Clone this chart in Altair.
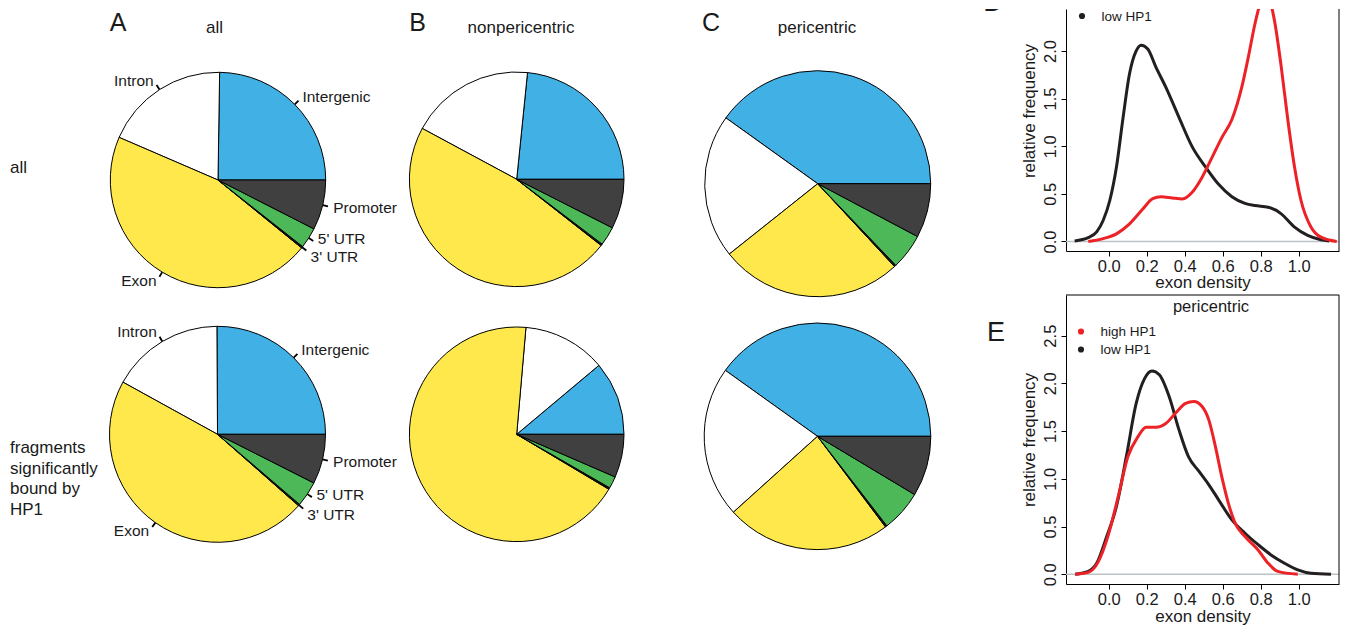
import math
import altair as alt
import pandas as pd

FONT = "Liberation Sans"
INK = "#1a1a1a"
RED = "#EC2227"
BLACK = "#231F20"

# ---------------- pie data ----------------
categories = ["Intergenic", "Intron", "Exon", "3' UTR", "5' UTR", "Promoter"]
category_colors = ["#41B0E4", "#FFFFFF", "#FFE84B", "#1A1A1A", "#4CB857", "#404040"]

all_all = [0.2475, 0.1875, 0.456, 0.0025, 0.031, 0.075]
all_nonperi = [0.234, 0.1875, 0.473, 0.0025, 0.0286, 0.0747]
all_peri = [0.401, 0.206, 0.262, 0.0025, 0.051, 0.0775]
hp1_all = [0.251, 0.169, 0.4655, 0.0025, 0.038, 0.0745]
hp1_nonperi = [0.111, 0.125, 0.6775, 0.0025, 0.018, 0.065]
hp1_peri = [0.401, 0.2156, 0.2355, 0.0025, 0.059, 0.086]

pie_series = {
    "all_all": all_all, "all_nonperi": all_nonperi, "all_peri": all_peri,
    "hp1_all": hp1_all, "hp1_nonperi": hp1_nonperi, "hp1_peri": hp1_peri,
}
rows = []
for key, vals in pie_series.items():
    for i, (c, v) in enumerate(zip(categories, vals)):
        rows.append({"pie": key, "category": c, "idx": i, "value": v})
pie_df = pd.DataFrame(rows)

# ---------------- density data ----------------
d_low_x = [-0.18, -0.108, -0.064, -0.03, 0.005, 0.04, 0.075, 0.109, 0.144, 0.17, 0.205, 0.248, 0.30, 0.37,
           0.44, 0.51, 0.578, 0.648, 0.717, 0.769, 0.839, 0.908, 0.978, 1.047, 1.117, 1.16]
d_low_y = [0.005, 0.04, 0.10, 0.22, 0.43, 0.78, 1.30, 1.76, 2.00, 2.06, 2.02, 1.83, 1.62, 1.30,
           0.99, 0.78, 0.60, 0.47, 0.40, 0.377, 0.36, 0.29, 0.15, 0.063, 0.018, 0.005]
d_high_x = [-0.108, -0.03, 0.04, 0.109, 0.179, 0.231, 0.274, 0.335, 0.387, 0.44, 0.49, 0.543, 0.595, 0.648,
            0.70, 0.734, 0.769, 0.80, 0.825, 0.85, 0.873, 0.908, 0.943, 0.978, 1.012, 1.065, 1.117, 1.2]
d_high_y = [0.0, 0.03, 0.08, 0.185, 0.34, 0.45, 0.47, 0.457, 0.447, 0.52, 0.67, 0.88, 1.09, 1.28,
            1.62, 1.93, 2.28, 2.52, 2.62, 2.52, 2.31, 1.83, 1.27, 0.78, 0.43, 0.15, 0.045, 0.0]
e_low_x = [-0.177, -0.108, -0.064, -0.012, 0.04, 0.092, 0.144, 0.188, 0.227, 0.266, 0.318, 0.37, 0.42,
           0.474, 0.526, 0.578, 0.648, 0.717, 0.786, 0.856, 0.925, 0.995, 1.064, 1.17]
e_low_y = [0.0, 0.03, 0.115, 0.39, 0.71, 1.23, 1.79, 2.05, 2.13, 2.09, 1.86, 1.51, 1.23,
           1.08, 0.94, 0.78, 0.57, 0.43, 0.31, 0.20, 0.115, 0.045, 0.01, 0.0]
e_high_x = [-0.177, -0.108, -0.056, -0.003, 0.049, 0.10, 0.153, 0.196, 0.248, 0.30, 0.352, 0.404, 0.448,
            0.49, 0.526, 0.561, 0.595, 0.63, 0.665, 0.717, 0.786, 0.839, 0.89, 0.995]
e_high_y = [0.0, 0.02, 0.13, 0.41, 0.81, 1.23, 1.44, 1.54, 1.54, 1.58, 1.69, 1.79, 1.81,
            1.76, 1.62, 1.34, 1.02, 0.74, 0.535, 0.395, 0.255, 0.115, 0.03, 0.0]

x_ticks = [0.0, 0.2, 0.4, 0.6, 0.8, 1.0]
y_ticks_d = [0.0, 0.5, 1.0, 1.5, 2.0]
y_ticks_e = [0.0, 0.5, 1.0, 1.5, 2.0, 2.5]


def dens_frame(xs, ys, group):
    return pd.DataFrame({"x": xs, "y": ys, "group": group})


dfD = pd.concat([dens_frame(d_low_x, d_low_y, "low HP1"), dens_frame(d_high_x, d_high_y, "high HP1")])
dfE = pd.concat([dens_frame(e_low_x, e_low_y, "low HP1"), dens_frame(e_high_x, e_high_y, "high HP1")])

one = pd.DataFrame({"k": [0]})

# ---------------- pie canvas ----------------
theta_scale = alt.Scale(domain=[0, 1], range=[2.5 * math.pi, 0.5 * math.pi])
color_scale = alt.Scale(domain=categories, range=category_colors)
label_nudge = {"5' UTR": -5, "3' UTR": 3}


def pie(key, cx, cy, r, labels=False):
    cx, cy = cx - 8, cy - 8
    src = alt.Chart(pie_df).transform_filter(alt.datum.pie == key)
    layers = [
        src.mark_arc(stroke="black", strokeWidth=1, radius=r).encode(
            theta=alt.Theta("value:Q", stack="normalize", scale=theta_scale),
            order=alt.Order("idx:Q"),
            color=alt.Color("category:N", scale=color_scale, legend=None),
            x=alt.value(cx), y=alt.value(cy),
        )
    ]
    if labels:
        lab = (src.transform_joinaggregate(total="sum(value)")
               .transform_window(cum="sum(value)", sort=[alt.SortField("idx")])
               .transform_calculate(mid="(datum.cum - datum.value/2)/datum.total")
               .transform_calculate(lo="datum.mid - 0.0013", hi="datum.mid + 0.0013",
                                    c="cos(2*PI*datum.mid)"))
        layers.append(lab.mark_arc(color="black").encode(
            theta=alt.Theta("lo:Q", scale=theta_scale, stack=False),
            theta2="hi:Q",
            radius=alt.value(r * 1.05), radius2=alt.value(r),
            x=alt.value(cx), y=alt.value(cy)))
        groups = [("datum.c >= 0 && datum.category != \"5' UTR\" && datum.category != \"3' UTR\"", "left", 0),
                  ("datum.c < 0", "right", 0)]
        for cat, d in label_nudge.items():
            groups.append((f"datum.category == \"{cat}\"", "left", d))
        for cond, al, d in groups:
            layers.append(lab.transform_filter(cond).mark_text(
                align=al, baseline="middle", font=FONT, fontSize=15.5, color=INK, dy=d).encode(
                theta=alt.Theta("mid:Q", scale=theta_scale, stack=False),
                radius=alt.value(r * 1.1),
                text="category:N",
                x=alt.value(cx), y=alt.value(cy)))
    return layers


def note(text, x, y, size, align="center", baseline="alphabetic", line_height=None, clip=False):
    kw = dict(text=text, fontSize=size, font=FONT, color=INK, align=align, baseline=baseline)
    if line_height:
        kw["lineHeight"] = line_height
    if clip:
        kw["clip"] = True
    return alt.Chart(one).mark_text(**kw).encode(x=alt.value(x - 8), y=alt.value(y - 8))


pie_layers = []
pie_layers += pie("all_all", 218, 179, 107.7, labels=True)
pie_layers += pie("all_nonperi", 516.7, 178.3, 107.3)
pie_layers += pie("all_peri", 817.7, 182.7, 113)
pie_layers += pie("hp1_all", 217.5, 433.3, 108, labels=True)
pie_layers += pie("hp1_nonperi", 516.7, 433.3, 107.3)
pie_layers += pie("hp1_peri", 817.5, 435.3, 113.3)

pie_layers += [
    note("A", 118, 30, 25), note("all", 214.5, 32, 17),
    note("B", 417.5, 30, 25), note("nonpericentric", 521, 32, 17),
    note("C", 711, 30, 25), note("pericentric", 817, 32, 17),
    note("all", 10, 172, 17, align="left"),
    note(["fragments", "significantly", "bound by", "HP1"], 10, 452, 17, align="left", line_height=20.5),
    note("D", 993, 10, 27, clip=True),
    note("E", 996, 340, 27),
]

pie_canvas = alt.layer(*pie_layers).properties(width=1000, height=600)

# ---------------- density panels ----------------
X_DOM = [-0.2255, 1.212]
W = 273
LEFT = 1067  # page x of the plot boxes


def xaxis(title_pad, label_pad):
    return alt.Axis(values=x_ticks, format=".1f", title="exon density", grid=False,
                    domain=True, domainColor="black", domainWidth=1, tickColor="black", tickSize=5,
                    labelFont=FONT, labelFontSize=16.5, labelColor=INK, labelPadding=label_pad,
                    titleFont=FONT, titleFontSize=17, titleColor=INK, titleFontWeight="normal",
                    titlePadding=title_pad, labelFlush=False)


def yaxis(values, title_y=None):
    kw = dict(values=values, format=".1f", title="relative frequency", grid=False,
              domain=True, domainColor="black", domainWidth=1, tickColor="black", tickSize=5,
              labelFont=FONT, labelFontSize=16.5, labelColor=INK, labelPadding=3,
              labelAngle=270, labelAlign="center", labelBaseline="bottom",
              titleFont=FONT, titleFontSize=17, titleColor=INK, titleFontWeight="normal",
              titlePadding=4, labelFlush=False)
    if title_y is not None:
        kw["titleY"] = title_y
    return alt.Axis(**kw)


def density(df, ydom, yvals, title_pad, label_pad, title_y=None):
    xs = alt.Scale(domain=X_DOM, nice=False, zero=False)
    ys = alt.Scale(domain=ydom, nice=False, zero=False)
    zero = alt.Chart(one).mark_rule(color="#BCC3C8", strokeWidth=1.5).encode(
        y=alt.datum(0, scale=ys, axis=yaxis(yvals, title_y)))
    low = alt.Chart(df).transform_filter(alt.datum.group == "low HP1").mark_line(
        strokeWidth=3, interpolate="monotone", clip=True, color=BLACK).encode(
        x=alt.X("x:Q", scale=xs, axis=xaxis(title_pad, label_pad)), y=alt.Y("y:Q", scale=ys))
    high = alt.Chart(df).transform_filter(alt.datum.group == "high HP1").mark_line(
        strokeWidth=3, interpolate="monotone", clip=True, color=RED).encode(
        x=alt.X("x:Q", scale=xs), y=alt.Y("y:Q", scale=ys))
    right = alt.Chart(one).mark_rule(color="black", strokeWidth=1).encode(x=alt.datum(X_DOM[1], scale=xs))
    return [zero, low, high, right]


def legend_row(txt, col, px, y):
    x = px - LEFT
    return [
        alt.Chart(one).mark_point(filled=True, size=38, color=col, opacity=1).encode(
            x=alt.value(x), y=alt.value(y)),
        alt.Chart(one).mark_text(text=txt, align="left", baseline="middle", font=FONT,
                                 fontSize=13.5, color=INK).encode(x=alt.value(x + 19.5), y=alt.value(y + 0.5)),
    ]


d_layers = density(dfD, [-0.1, 2.44], y_ticks_d, 0, 2, title_y=101.5)
d_layers += legend_row("low HP1", BLACK, 1083, 7)
panelD = alt.layer(*d_layers).properties(width=W, height=242)

e_layers = density(dfE, [-0.102, 2.926], y_ticks_e, 1, 2)
e_layers += [
    alt.Chart(one).mark_rule(color="black", strokeWidth=1).encode(y=alt.value(0)),
    alt.Chart(one).mark_text(text="pericentric", align="center", baseline="alphabetic", font=FONT,
                             fontSize=16.5, color=INK).encode(x=alt.value(1212 - LEFT), y=alt.value(17)),
]
e_layers += legend_row("high HP1", RED, 1082, 36.5)
e_layers += legend_row("low HP1", BLACK, 1082, 54.5)
panelE = alt.layer(*e_layers).properties(width=W, height=289)

right_col = alt.vconcat(panelD, panelE, spacing=3)

chart = alt.hconcat(pie_canvas, right_col, spacing=12).properties(
    padding=0, background="white"
).configure_view(stroke=None)

chart.save("out.html", embed_options={"renderer": "svg", "actions": False})
